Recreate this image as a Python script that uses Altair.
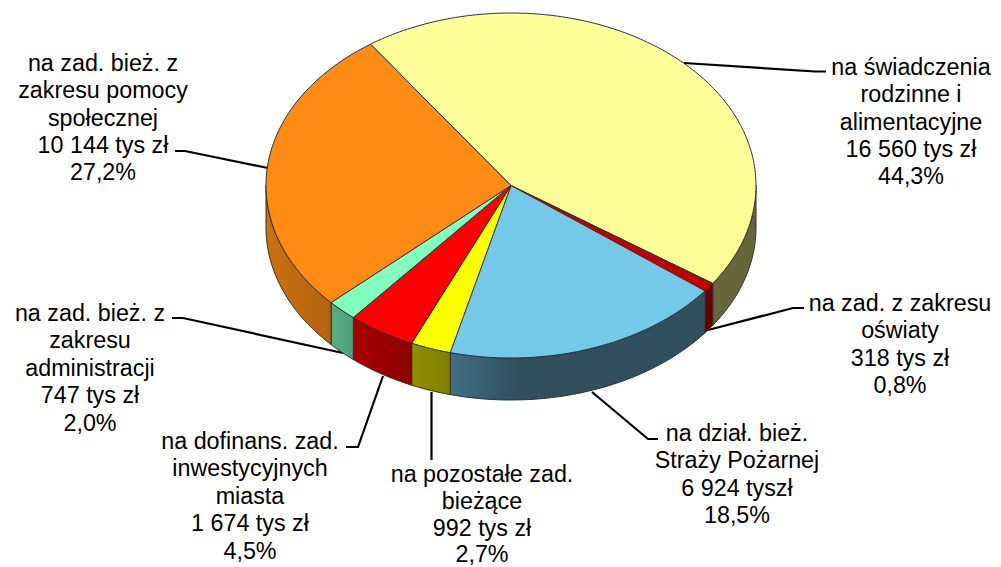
import math
import altair as alt
import pandas as pd

# ---- chart values, clockwise from the first slice ----
names = ["na świadczenia rodzinne i alimentacyjne", "na zad. z zakresu oświaty", "na dział. bież. Straży Pożarnej",
         "na pozostałe zad. bieżące", "na dofinans. zad. inwestycyjnych miasta",
         "na zad. bież. z zakresu administracji", "na zad. bież. z zakresu pomocy społecznej"]
values = [16560, 318, 6924, 992, 1674, 747, 10144]
label_lines = [
    ["na świadczenia", "rodzinne i", "alimentacyjne", "16 560 tys zł", "44,3%"],
    ["na zad. z zakresu", "oświaty", "318 tys zł", "0,8%"],
    ["na dział. bież.", "Straży Pożarnej", "6 924 tyszł", "18,5%"],
    ["na pozostałe zad.", "bieżące", "992 tys zł", "2,7%"],
    ["na dofinans. zad.", "inwestycyjnych", "miasta", "1 674 tys zł", "4,5%"],
    ["na zad. bież. z", "zakresu", "administracji", "747 tys zł", "2,0%"],
    ["na zad. bież. z", "zakresu pomocy", "społecznej", "10 144 tys zł", "27,2%"],
]
top_colors = ["#FFFF99", "#C00000", "#75C9E8", "#FFFF00", "#FF0000", "#80FFBF", "#FF8A14"]
side_stops = [
    ["#66663D", "#66663D"], ["#660000", "#660000"], ["#2F505C", "#2F505C"],
    ["#8F8F00", "#7F7F00"], ["#A80000", "#8A0000"], ["#58AE84", "#50A078"], ["#C9720F", "#B5620F"],
]

# ---- layout ----
W, H = 985, 559
CX, CY, RX, RY, DEPTH = 511, 185.5, 245, 172.5, 42
START = -35.0
label_pos = [(911, 67.8), (900, 304), (737, 434), (482, 475), (250, 441.9), (90, 313.9), (103, 63.8)]
label_step = [27.4, 27.4, 27.4, 26.8, 27.4, 27.4, 27.4]
leaders = [
    [(684, 63), (815, 71.5), (826, 71.5)],
    [(708, 330), (793, 308), (804, 308)],
    [(592, 392), (648, 439), (658, 439)],
    [(431.5, 392), (431.5, 460)],
    [(383, 376), (358, 447), (346, 447)],
    [(343, 353), (183, 318), (172, 318)],
    [(268, 168), (185, 151), (175, 151)],
]

xs = alt.X("x:Q", scale=alt.Scale(domain=[8, 8 + W], range=[0, W]), axis=None)
ys = alt.Y("y:Q", scale=alt.Scale(domain=[8, 8 + H], range=[0, H]), axis=None)


def pt(theta, drop=0.0):
    a = math.radians(theta)
    return CX + RX * math.sin(a), CY - RY * math.cos(a) + drop


def arc(a0, a1, drop=0.0):
    n = max(2, int(abs(a1 - a0)) + 2)
    return [pt(a0 + (a1 - a0) * i / (n - 1), drop) for i in range(n)]


def poly(points, fill, stroke="#303030", sw=1.0):
    df = pd.DataFrame({"x": [p[0] for p in points], "y": [p[1] for p in points], "k": range(len(points))})
    return alt.Chart(df).mark_line(interpolate="linear-closed", fill=fill, stroke=stroke, strokeWidth=sw,
                                   strokeJoin="round").encode(x=xs, y=ys, order=alt.Order("k:Q"))


total = sum(values)
bounds = [START]
for v in values:
    bounds.append(bounds[-1] + 360.0 * v / total)

layers = []
for seg in leaders:
    df = pd.DataFrame({"x": [p[0] for p in seg], "y": [p[1] for p in seg], "k": range(len(seg))})
    layers.append(alt.Chart(df).mark_line(color="#000000", strokeWidth=2.2).encode(x=xs, y=ys, order=alt.Order("k:Q")))

for i in range(len(values)):
    a0, a1 = max(bounds[i], 90.0), min(bounds[i + 1], 270.0)
    if a1 <= a0:
        continue
    pts = arc(a0, a1) + arc(a1, a0, DEPTH)
    grad = {"gradient": "linear", "x1": 0, "y1": 0, "x2": 1, "y2": 0,
            "stops": [{"offset": 0, "color": side_stops[i][0]}, {"offset": 1, "color": side_stops[i][1]}]}
    if i == 2:
        grad["stops"] = [{"offset": 0, "color": "#416E85"}, {"offset": 0.27, "color": "#2F505C"},
                         {"offset": 1, "color": "#2F505C"}]
    layers.append(poly(pts, grad))

for i in range(len(values)):
    layers.append(poly([(CX, CY)] + arc(bounds[i], bounds[i + 1]), top_colors[i]))

rows = []
for lines, (lx, ly), step in zip(label_lines, label_pos, label_step):
    for j, t in enumerate(lines):
        rows.append({"x": lx, "y": ly + j * step, "t": t})
layers.append(alt.Chart(pd.DataFrame(rows)).mark_text(font="Liberation Sans", fontSize=23.3, color="#000000",
                                                      align="center", baseline="middle").encode(
    x=xs, y=ys, text="t:N"))

chart = alt.layer(*layers).properties(
    width=W, height=H, padding=0, autosize=alt.AutoSizeParams(type="none"),
).configure_view(stroke=None)

chart.save("out.html", embed_options={"renderer": "svg", "actions": False})
